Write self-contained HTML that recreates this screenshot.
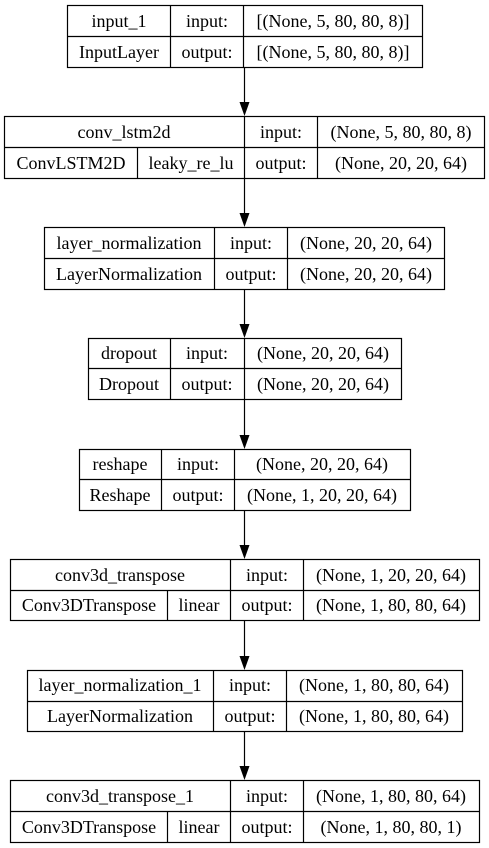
<!DOCTYPE html>
<html><head><meta charset="utf-8"><style>
html,body{margin:0;padding:0;background:#fff}
svg{display:block}
text{font-family:"Liberation Serif",serif;font-size:18px;fill:#000}
</style></head><body>
<svg width="489" height="848" viewBox="0 0 489 848" xmlns="http://www.w3.org/2000/svg">
<g fill="none" stroke="#000" stroke-width="1.2">
<rect x="67.5" y="5.5" width="355" height="62"/>
<line x1="67.5" y1="36.5" x2="422.5" y2="36.5"/>
<line x1="170.5" y1="5.5" x2="170.5" y2="67.5"/>
<line x1="243.5" y1="5.5" x2="243.5" y2="67.5"/>
<rect x="4.5" y="116.5" width="480" height="62"/>
<line x1="4.5" y1="147.5" x2="484.5" y2="147.5"/>
<line x1="244.5" y1="116.5" x2="244.5" y2="178.5"/>
<line x1="317.5" y1="116.5" x2="317.5" y2="178.5"/>
<line x1="137.5" y1="147.5" x2="137.5" y2="178.5"/>
<rect x="44.5" y="227.5" width="400" height="62"/>
<line x1="44.5" y1="258.5" x2="444.5" y2="258.5"/>
<line x1="214.5" y1="227.5" x2="214.5" y2="289.5"/>
<line x1="287.5" y1="227.5" x2="287.5" y2="289.5"/>
<rect x="88.5" y="338.5" width="313" height="61"/>
<line x1="88.5" y1="368.5" x2="401.5" y2="368.5"/>
<line x1="170.5" y1="338.5" x2="170.5" y2="399.5"/>
<line x1="244.5" y1="338.5" x2="244.5" y2="399.5"/>
<rect x="79.5" y="449.5" width="331" height="61"/>
<line x1="79.5" y1="479.5" x2="410.5" y2="479.5"/>
<line x1="161.5" y1="449.5" x2="161.5" y2="510.5"/>
<line x1="234.5" y1="449.5" x2="234.5" y2="510.5"/>
<rect x="10.5" y="559.5" width="469" height="61"/>
<line x1="10.5" y1="590.5" x2="479.5" y2="590.5"/>
<line x1="230.5" y1="559.5" x2="230.5" y2="620.5"/>
<line x1="303.5" y1="559.5" x2="303.5" y2="620.5"/>
<line x1="167.5" y1="590.5" x2="167.5" y2="620.5"/>
<rect x="27.5" y="670.5" width="435" height="61"/>
<line x1="27.5" y1="701.5" x2="462.5" y2="701.5"/>
<line x1="213.5" y1="670.5" x2="213.5" y2="731.5"/>
<line x1="286.5" y1="670.5" x2="286.5" y2="731.5"/>
<rect x="10.5" y="780.5" width="469" height="62"/>
<line x1="10.5" y1="811.5" x2="479.5" y2="811.5"/>
<line x1="230.5" y1="780.5" x2="230.5" y2="842.5"/>
<line x1="303.5" y1="780.5" x2="303.5" y2="842.5"/>
<line x1="167.5" y1="811.5" x2="167.5" y2="842.5"/>
<line x1="244.5" y1="67.5" x2="244.5" y2="104"/>
<line x1="244.5" y1="178.5" x2="244.5" y2="215"/>
<line x1="244.5" y1="289.5" x2="244.5" y2="326"/>
<line x1="244.5" y1="399.5" x2="244.5" y2="437"/>
<line x1="244.5" y1="510.5" x2="244.5" y2="547"/>
<line x1="244.5" y1="620.5" x2="244.5" y2="658"/>
<line x1="244.5" y1="731.5" x2="244.5" y2="768"/>
</g>
<g fill="#000">
<polygon points="239.5,102 249.5,102 244.5,116"/>
<polygon points="239.5,213 249.5,213 244.5,227"/>
<polygon points="239.5,324 249.5,324 244.5,338"/>
<polygon points="239.5,435 249.5,435 244.5,449"/>
<polygon points="239.5,545 249.5,545 244.5,559"/>
<polygon points="239.5,656 249.5,656 244.5,670"/>
<polygon points="239.5,766 249.5,766 244.5,780"/>
</g>
<g text-anchor="middle">
<text x="119" y="27">input_1</text><text x="207" y="27">input:</text><text x="333" y="27">[(None, 5, 80, 80, 8)]</text>
<text x="119" y="58">InputLayer</text><text x="207" y="58">output:</text><text x="333" y="58">[(None, 5, 80, 80, 8)]</text>

<text x="124" y="138">conv_lstm2d</text><text x="281" y="138">input:</text><text x="401" y="138">(None, 5, 80, 80, 8)</text>
<text x="71" y="169">ConvLSTM2D</text><text x="191" y="169">leaky_re_lu</text><text x="281" y="169">output:</text><text x="401" y="169">(None, 20, 20, 64)</text>

<text x="129" y="249">layer_normalization</text><text x="251" y="249">input:</text><text x="366" y="249">(None, 20, 20, 64)</text>
<text x="129" y="280">LayerNormalization</text><text x="251" y="280">output:</text><text x="366" y="280">(None, 20, 20, 64)</text>

<text x="129" y="359">dropout</text><text x="207" y="359">input:</text><text x="323" y="359">(None, 20, 20, 64)</text>
<text x="129" y="390">Dropout</text><text x="207" y="390">output:</text><text x="323" y="390">(None, 20, 20, 64)</text>

<text x="120" y="470">reshape</text><text x="198" y="470">input:</text><text x="322" y="470">(None, 20, 20, 64)</text>
<text x="120" y="501">Reshape</text><text x="198" y="501">output:</text><text x="322" y="501">(None, 1, 20, 20, 64)</text>

<text x="120" y="581">conv3d_transpose</text><text x="267" y="581">input:</text><text x="391" y="581">(None, 1, 20, 20, 64)</text>
<text x="89" y="611">Conv3DTranspose</text><text x="199" y="611">linear</text><text x="267" y="611">output:</text><text x="391" y="611">(None, 1, 80, 80, 64)</text>

<text x="120" y="691">layer_normalization_1</text><text x="250" y="691">input:</text><text x="374" y="691">(None, 1, 80, 80, 64)</text>
<text x="120" y="722">LayerNormalization</text><text x="250" y="722">output:</text><text x="374" y="722">(None, 1, 80, 80, 64)</text>

<text x="120" y="802">conv3d_transpose_1</text><text x="267" y="802">input:</text><text x="391" y="802">(None, 1, 80, 80, 64)</text>
<text x="89" y="833">Conv3DTranspose</text><text x="199" y="833">linear</text><text x="267" y="833">output:</text><text x="391" y="833">(None, 1, 80, 80, 1)</text>
</g>
</svg>
</body></html>
